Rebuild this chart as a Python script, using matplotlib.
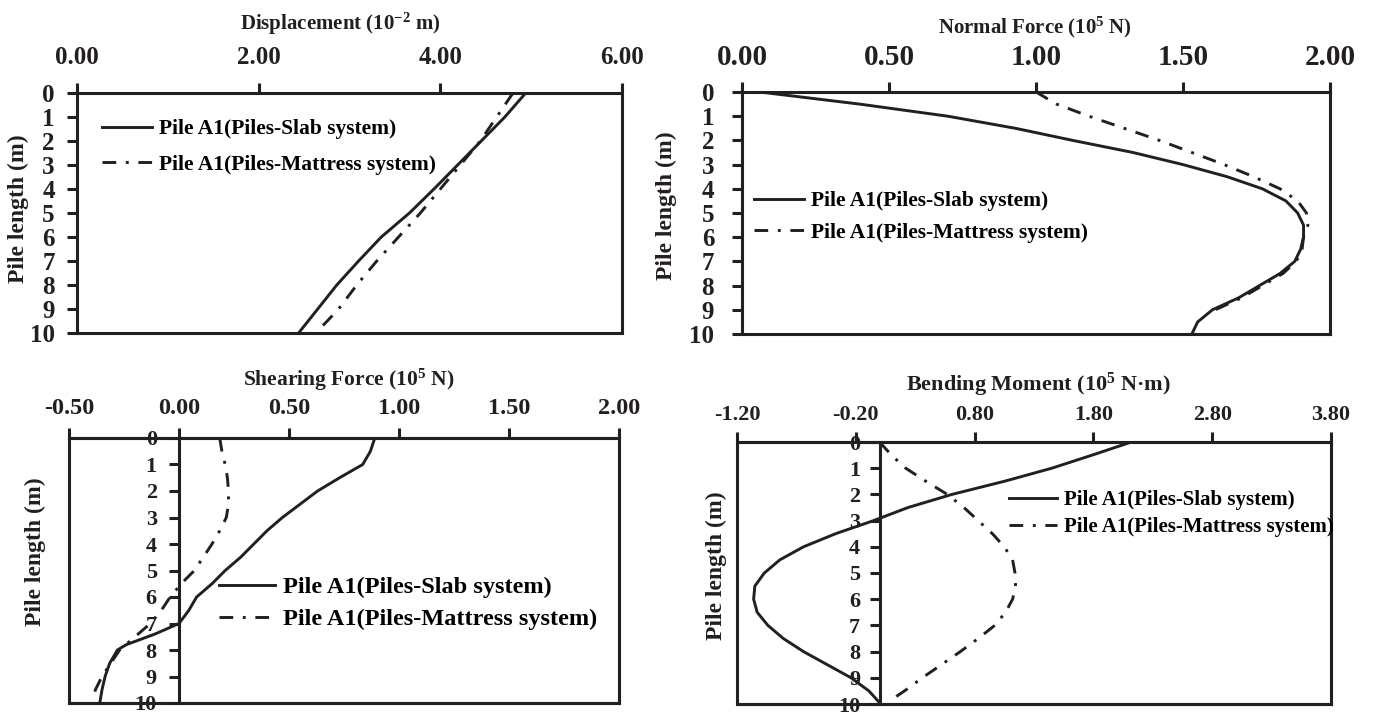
import matplotlib
matplotlib.use("Agg")
import matplotlib.pyplot as plt
from matplotlib.patches import Rectangle
from matplotlib.lines import Line2D

# ---------------- data ----------------
depth_disp = [0, 1, 2, 3, 4, 5, 6, 7, 8, 9, 10]
disp_slab = [4.94, 4.71, 4.45, 4.19, 3.93, 3.66, 3.35, 3.10, 2.86, 2.65, 2.44]
depth_disp_mat = [0, 1, 2, 3, 4, 5, 6, 7, 8, 9, 9.8]
disp_mattress = [4.80, 4.62, 4.44, 4.22, 4.00, 3.78, 3.54, 3.30, 3.08, 2.88, 2.68]

depth_nf = [0, 0.5, 1, 1.5, 2, 2.5, 3, 3.5, 4, 4.5, 5, 5.5, 6, 6.5, 7, 7.5, 8, 8.5, 9, 9.5, 10]
nf_slab = [0.06, 0.40, 0.70, 0.93, 1.125, 1.33, 1.50, 1.65, 1.77, 1.85, 1.89, 1.91, 1.91,
           1.90, 1.88, 1.83, 1.76, 1.69, 1.60, 1.55, 1.53]
depth_nf_mat = [0, 0.5, 1, 1.5, 2, 2.5, 3, 3.5, 4, 4.5, 5, 5.5, 6, 6.5, 7, 7.5, 8, 8.5, 9]
nf_mattress = [1.00, 1.07, 1.18, 1.30, 1.42, 1.53, 1.64, 1.74, 1.83, 1.89, 1.92, 1.925, 1.91,
               1.905, 1.885, 1.84, 1.77, 1.70, 1.61]

depth_sf = [0, 0.5, 1, 1.5, 2, 2.5, 3, 3.5, 4, 4.5, 5, 5.5, 6, 6.5, 7, 7.4, 7.8, 8, 8.5, 9, 9.5, 10]
sf_slab = [0.89, 0.87, 0.835, 0.73, 0.63, 0.55, 0.47, 0.40, 0.34, 0.28, 0.21, 0.15, 0.08,
           0.045, 0.0, -0.11, -0.24, -0.28, -0.315, -0.336, -0.35, -0.36]
depth_sf_mat = [0, 0.5, 1, 1.5, 2, 2.5, 3, 3.5, 4, 4.5, 5, 5.5, 6, 6.5, 7, 7.5, 8, 8.5, 9, 9.5, 9.8]
sf_mattress = [0.185, 0.195, 0.21, 0.22, 0.225, 0.225, 0.215, 0.185, 0.15, 0.11, 0.07, 0.01,
               -0.04, -0.08, -0.13, -0.20, -0.27, -0.31, -0.35, -0.38, -0.39]

depth_bm = [0, 0.5, 1, 1.5, 2, 2.5, 3, 3.5, 4, 4.5, 5, 5.5, 6, 6.5, 7, 7.5, 8, 8.5, 9, 9.5, 10]
bm_slab = [2.12, 1.79, 1.45, 1.05, 0.61, 0.24, -0.05, -0.37, -0.64, -0.84, -0.97, -1.05, -1.06,
           -1.03, -0.94, -0.81, -0.64, -0.44, -0.24, -0.09, 0.01]
depth_bm_mat = [0, 0.5, 1, 1.5, 2, 2.5, 3, 3.5, 4, 4.5, 5, 5.5, 6, 6.5, 7, 7.5, 8, 8.5, 9, 9.5, 9.9]
bm_mattress = [0.0, 0.10, 0.22, 0.39, 0.57, 0.71, 0.83, 0.95, 1.05, 1.12, 1.14, 1.145, 1.12,
               1.06, 0.97, 0.83, 0.68, 0.52, 0.36, 0.21, 0.08]

ticks_disp = [0.0, 2.0, 4.0, 6.0]
ticks_nf = [0.0, 0.5, 1.0, 1.5, 2.0]
ticks_sf = [-0.5, 0.0, 0.5, 1.0, 1.5, 2.0]
ticks_bm = [-1.2, -0.2, 0.8, 1.8, 2.8, 3.8]
depth_ticks = list(range(11))

label_slab = "Pile A1(Piles-Slab system)"
label_mat = "Pile A1(Piles-Mattress system)"
ylabel = "Pile length (m)"

# ---------------- style ----------------
W, H = 1373, 713
plt.rcParams['font.family'] = ['Liberation Serif', 'DejaVu Serif']
plt.rcParams['font.weight'] = 'bold'
plt.rcParams['mathtext.fontset'] = 'custom'
plt.rcParams['mathtext.rm'] = 'Liberation Serif:bold'
plt.rcParams['mathtext.it'] = 'Liberation Serif:bold'
plt.rcParams['mathtext.bf'] = 'Liberation Serif:bold'
plt.rcParams['mathtext.default'] = 'bf'

C = '#231f20'
LW = 2.1
SPW = 2.2
DASH = (0, (4.7, 3.3, 1.0, 3.3))

fig = plt.figure(figsize=(W / 100, H / 100), dpi=100)


def rect(l, r, t, b):
    return [l / W, 1 - b / H, (r - l) / W, (b - t) / H]


def setup(ax, xlim, xticks, xfs, xpad, yfs, ypad, zero_axis=False):
    ax.set_xlim(xlim)
    ax.set_ylim(10, 0)
    ax.xaxis.set_ticks_position('top')
    ax.set_xticks(xticks)
    ax.set_xticklabels([f"{v:.2f}" for v in xticks])
    ax.set_yticks(depth_ticks)
    ax.set_yticklabels([str(v) for v in depth_ticks])
    ax.tick_params(axis='x', direction='out', length=7, width=SPW, pad=xpad,
                   labelsize=xfs, color=C, labelcolor=C)
    ax.tick_params(axis='y', direction='out', length=7, width=SPW, pad=ypad,
                   labelsize=yfs, color=C, labelcolor=C)
    for lab in ax.get_xticklabels() + ax.get_yticklabels():
        lab.set_fontweight('bold')
    for s in ax.spines.values():
        s.set_linewidth(SPW)
        s.set_color(C)
    if zero_axis:
        ax.spines['left'].set_position(('data', 0))
        ax.add_patch(Rectangle((0, 0), 1, 1, transform=ax.transAxes, fill=False,
                               lw=SPW, ec=C, clip_on=False, zorder=3))


def legend(ax, x, y, fs, ll=2.3, tp=0.35, ls=0.35):
    h = [Line2D([], [], color=C, lw=LW), Line2D([], [], color=C, lw=LW, ls=DASH)]
    ax.legend(h, [label_slab, label_mat], loc='upper left',
              bbox_to_anchor=(x / W, 1 - y / H), bbox_transform=fig.transFigure,
              frameon=False, borderpad=0, borderaxespad=0, handlelength=ll,
              handletextpad=tp, labelspacing=ls,
              prop={'size': fs, 'weight': 'bold', 'family': 'Liberation Serif'})


def ftext(x, y, s, fs, rot=0):
    fig.text(x / W, 1 - y / H, s, fontsize=fs, fontweight='bold', rotation=rot,
             ha='center', va='center', color=C)


# Panel 1: displacement
ax1 = fig.add_axes(rect(77, 622, 93, 333))
setup(ax1, (0, 6), ticks_disp, 18, 10, 18, 9)
ax1.plot(disp_slab, depth_disp, color=C, lw=LW)
ax1.plot(disp_mattress, depth_disp_mat, color=C, lw=LW, ls=DASH)
legend(ax1, 102, 119, 15.5, ls=0.72)
ftext(340, 24, r"Displacement (10$^{-2}$ m)", 15)
ftext(18, 209, ylabel, 17, 90)

# Panel 2: normal force
ax2 = fig.add_axes(rect(742, 1330, 92, 334))
setup(ax2, (0, 2), ticks_nf, 21, 8, 18, 13)
ax2.plot(nf_slab, depth_nf, color=C, lw=LW)
ax2.plot(nf_mattress, depth_nf_mat, color=C, lw=LW, ls=DASH)
legend(ax2, 754, 191, 15.5, ls=0.55)
ftext(1035, 27, r"Normal Force (10$^{5}$ N)", 15)
ftext(666, 206, ylabel, 17, 90)

# Panel 3: shearing force
ax3 = fig.add_axes(rect(69, 619, 438, 703))
setup(ax3, (-0.5, 2.0), ticks_sf, 17.5, 7, 16, 9, zero_axis=True)
ax3.plot(sf_slab, depth_sf, color=C, lw=LW)
ax3.plot(sf_mattress, depth_sf_mat, color=C, lw=LW, ls=DASH)
legend(ax3, 219, 576, 17.5, ls=0.42)
ftext(349, 380, r"Shearing Force (10$^{5}$ N)", 15.5)
ftext(35, 552, ylabel, 17, 90)

# Panel 4: bending moment
ax4 = fig.add_axes(rect(737, 1331, 442, 704))
setup(ax4, (-1.2, 3.8), ticks_bm, 16, 5, 16, 7, zero_axis=True)
ax4.plot(bm_slab, depth_bm, color=C, lw=LW)
ax4.plot(bm_mattress, depth_bm_mat, color=C, lw=LW, ls=DASH)
legend(ax4, 1009, 490, 15, ls=0.35)
ftext(1038, 385, "Bending Moment (10$^{5}$ N\u00b7m)", 16)
ftext(716, 566, ylabel, 17, 90)

fig.savefig("out.png", dpi=100)
